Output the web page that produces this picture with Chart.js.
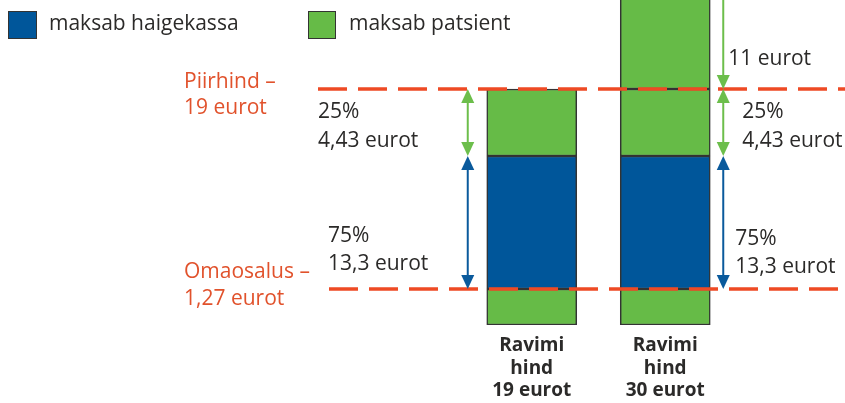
<!DOCTYPE html>
<html>
<head>
<meta charset="utf-8">
<script src="https://cdn.jsdelivr.net/npm/chart.js@4.4.0/dist/chart.umd.min.js"></script>
<style>
  html, body { margin: 0; padding: 0; background: #fff; }
</style>
</head>
<body>
<canvas id="priceChart" width="845" height="403"></canvas>
<script>
// data (euro)
const categories = [["Ravimi", "hind", "19 eurot"], ["Ravimi", "hind", "30 eurot"]];
const omaosalus = [1.27, 1.27];
const haigekassa = [13.3, 13.3];
const patsient25 = [4.43, 4.43];
const ulePiirhinna = [null, 11];
const piirhind = 19;
const legendLabels = ["maksab haigekassa", "maksab patsient"];

const BLUE = "#00569a";
const GREEN = "#66bb47";
const RED = "#ee4a24";
const RED_TEXT = "#e1522c";
const DARK = "#2b2a29";
const FONT = '"Open Sans", "Noto Sans", sans-serif';

// the picture is a schematic: each band gets its own height, not a linear one
const shownHeights = [0, 36, 169, 236, 360];
function euroBreaks() {
    return [0, omaosalus[0], omaosalus[0] + haigekassa[0], piirhind, piirhind + ulePiirhinna[1]];
}

class SchematicScale extends Chart.LinearScale {
    static id = "schematic";
    static defaults = Chart.LinearScale.defaults;

    toShown(v) {
        const b = euroBreaks();
        for (let i = 1; i < b.length; i++) {
            if (v <= b[i] || i === b.length - 1) {
                const t = (v - b[i - 1]) / (b[i] - b[i - 1]);
                return shownHeights[i - 1] + t * (shownHeights[i] - shownHeights[i - 1]);
            }
        }
        return v;
    }
    getPixelForValue(v) {
        if (v === null || v === undefined) return NaN;
        return super.getPixelForValue(this.toShown(v));
    }
}
Chart.register(SchematicScale);

function drawArrow(ctx, x, y1, y2, color, headTop, headBottom) {
    const hw = 6.5, hl = 14;
    ctx.save();
    ctx.strokeStyle = color;
    ctx.fillStyle = color;
    ctx.lineWidth = 2;
    ctx.beginPath();
    ctx.moveTo(x, headTop ? y1 + hl - 2 : y1);
    ctx.lineTo(x, headBottom ? y2 - hl + 2 : y2);
    ctx.stroke();
    if (headTop) {
        ctx.beginPath();
        ctx.moveTo(x, y1);
        ctx.lineTo(x - hw, y1 + hl);
        ctx.lineTo(x + hw, y1 + hl);
        ctx.closePath();
        ctx.fill();
    }
    if (headBottom) {
        ctx.beginPath();
        ctx.moveTo(x, y2);
        ctx.lineTo(x - hw, y2 - hl);
        ctx.lineTo(x + hw, y2 - hl);
        ctx.closePath();
        ctx.fill();
    }
    ctx.restore();
}

function dashedLine(ctx, x1, x2, y) {
    ctx.save();
    ctx.strokeStyle = RED;
    ctx.lineWidth = 3.5;
    ctx.setLineDash([29, 11]);
    ctx.beginPath();
    ctx.moveTo(x1, y);
    ctx.lineTo(x2, y);
    ctx.stroke();
    ctx.restore();
}

const annotations = {
    id: "annotations",
    afterDatasetsDraw(chart) {
        const ctx = chart.ctx;
        const y = chart.scales.y;
        const yTop = y.getPixelForValue(piirhind);
        const yLow = y.getPixelForValue(omaosalus[0]);
        const yMid = y.getPixelForValue(omaosalus[0] + haigekassa[0]);
        const bars = chart.getDatasetMeta(0).data;
        const leftX = bars[0].x - bars[0].width / 2 - 19;
        const rightX = bars[1].x + bars[1].width / 2 + 13;

        // legend
        ctx.save();
        ctx.lineWidth = 1;
        ctx.strokeStyle = "#333";
        ctx.fillStyle = BLUE;
        ctx.fillRect(8, 11, 29, 28);
        ctx.strokeRect(8.5, 11.5, 28, 27);
        ctx.fillStyle = GREEN;
        ctx.fillRect(308, 11, 28, 28);
        ctx.strokeRect(308.5, 11.5, 27, 27);
        ctx.fillStyle = DARK;
        ctx.font = "21px " + FONT;
        ctx.textBaseline = "alphabetic";
        ctx.fillText(legendLabels[0], 49, 30);
        ctx.fillText(legendLabels[1], 349, 30);
        ctx.restore();

        // reference lines
        dashedLine(ctx, 318, 845, yTop);
        dashedLine(ctx, 329, 845, yLow);

        // arrows
        drawArrow(ctx, leftX, yTop, yMid, "#6cbe4b", true, true);
        drawArrow(ctx, leftX, yMid, yLow, "#0a5a9c", true, true);
        drawArrow(ctx, rightX, -20, yTop, "#6cbe4b", false, true);
        drawArrow(ctx, rightX, yTop, yMid, "#6cbe4b", true, true);
        drawArrow(ctx, rightX, yMid, yLow, "#0a5a9c", true, true);

        // texts
        ctx.save();
        ctx.font = "21px " + FONT;
        ctx.textBaseline = "alphabetic";
        ctx.fillStyle = RED_TEXT;
        ctx.fillText("Piirhind –", 184, yTop - 1);
        ctx.fillText(piirhind + " eurot", 184, yTop + 25);
        ctx.fillText("Omaosalus –", 184, yLow - 11);
        ctx.fillText("1,27 eurot", 184, yLow + 16);
        ctx.fillStyle = DARK;
        ctx.fillText("25%", 318, yTop + 29);
        ctx.fillText("4,43 eurot", 318, yTop + 58);
        ctx.fillText("75%", 328, yLow - 47);
        ctx.fillText("13,3 eurot", 328, yLow - 19);
        ctx.fillText("11 eurot", rightX + 5, yTop - 24);
        ctx.fillText("25%", rightX + 19, yTop + 29);
        ctx.fillText("4,43 eurot", rightX + 19, yTop + 58);
        ctx.fillText("75%", rightX + 12, yLow - 44);
        ctx.fillText("13,3 eurot", rightX + 12, yLow - 16);
        ctx.restore();
    }
};

const barStyle = {
    borderColor: "#333",
    borderWidth: 1.5,
    borderSkipped: false,
    barThickness: 90
};

new Chart(document.getElementById("priceChart"), {
    type: "bar",
    data: {
        labels: categories,
        datasets: [
            { label: legendLabels[1], data: omaosalus, backgroundColor: GREEN, ...barStyle },
            { label: legendLabels[0], data: haigekassa, backgroundColor: BLUE, ...barStyle },
            { label: legendLabels[1], data: patsient25, backgroundColor: GREEN, ...barStyle },
            { label: legendLabels[1], data: ulePiirhinna, backgroundColor: GREEN, ...barStyle }
        ]
    },
    options: {
        responsive: false,
        animation: false,
        layout: { padding: { left: 465, right: 113, top: 0, bottom: 0 } },
        plugins: {
            legend: { display: false },
            tooltip: { enabled: false }
        },
        scales: {
            x: {
                stacked: true,
                grid: { display: false, drawTicks: false },
                border: { display: false },
                afterFit: (scale) => { scale.height = 78; },
                ticks: {
                    color: DARK,
                    padding: 9,
                    maxRotation: 0,
                    font: { family: FONT, size: 19, weight: "bold", lineHeight: 1.2 }
                }
            },
            y: {
                type: "schematic",
                stacked: true,
                display: false,
                min: 0,
                max: 325
            }
        }
    },
    plugins: [annotations]
});
</script>
</body>
</html>
